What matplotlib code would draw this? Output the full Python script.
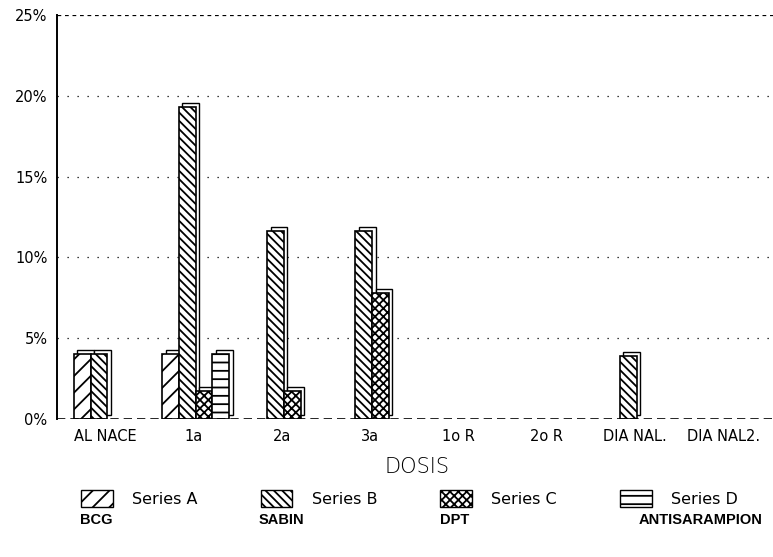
import matplotlib
matplotlib.use("Agg")
import matplotlib.pyplot as plt
from matplotlib.patches import Patch
import numpy as np

categories = ["AL NACE", "1a", "2a", "3a", "1o R", "2o R", "DIA NAL.", "DIA NAL2."]
series_names = ["Series A", "Series B", "Series C", "Series D"]
series_a = [4.0, 4.0, 0, 0, 0, 0, 0, 0]
series_b = [4.0, 19.3, 11.6, 11.6, 0, 0, 3.9, 0]
series_c = [0, 1.7, 1.7, 7.8, 0, 0, 0, 0]
series_d = [0, 4.0, 0, 0, 0, 0, 0, 0]
vaccines = ["BCG", "SABIN", "DPT", "ANTISARAMPION"]
yticks = [0, 5, 10, 15, 20, 25]
ytick_labels = ["0%", "5%", "10%", "15%", "20%", "25%"]

hatches = ["//", "\\\\\\\\", "xxxx", "--"]

plt.rcParams['hatch.linewidth'] = 1.3
plt.rcParams['font.family'] = ['DejaVu Sans']

fig = plt.figure(figsize=(7.73, 5.57), dpi=100)
ax = fig.add_axes([0.074, 0.248, 0.93, 0.725])

x = np.arange(len(categories))
w = 0.19
data = [series_a, series_b, series_c, series_d]
dx, dy = 0.04, 0.25
for i, vals in enumerate(data):
    off = (i - 1.5) * w + 0.02
    vals = np.array(vals)
    nz = vals > 0
    # 3D depth outline behind
    ax.bar(x[nz] + off + dx, vals[nz], width=w, bottom=dy, color="white",
           edgecolor="black", linewidth=1.0, zorder=2)
    ax.bar(x[nz] + off, vals[nz], width=w, color="white", edgecolor="black",
           hatch=hatches[i], linewidth=1.2, zorder=3)

for yv in [5, 10, 15, 20]:
    ax.axhline(yv, color="black", linestyle=(0, (1, 7)), linewidth=0.9, zorder=1)
ax.axhline(25, color="black", linestyle=(0, (3, 3)), linewidth=0.9, zorder=1)
ax.axhline(0, color="black", linestyle=(0, (5, 3)), linewidth=1.2, zorder=4)

ax.set_xlim(-0.55, 7.6)
ax.set_ylim(0, 25)
ax.set_yticks(yticks)
ax.set_yticklabels(ytick_labels, fontsize=10.5)
ax.set_xticks(x)
ax.set_xticklabels(categories, fontsize=10.5)
ax.tick_params(length=0, pad=7)
for s in ["top", "right", "bottom"]:
    ax.spines[s].set_visible(False)
ax.spines["left"].set_linewidth(1.4)
ax.set_xlabel("DOSIS", fontsize=15, labelpad=10, fontweight="light")

handles = [Patch(facecolor="white", edgecolor="black", hatch=h, linewidth=1.0) for h in hatches]
fig.legend(handles, series_names, loc="center left", bbox_to_anchor=(0.086, 0.105),
           ncol=4, frameon=False, fontsize=11.5, handlelength=2.0, handleheight=1.2,
           handletextpad=1.2, columnspacing=3.95)

xs = [0.104, 0.334, 0.569, 0.826]
for xv, t in zip(xs, vaccines):
    fig.text(xv, 0.066, t, fontsize=10.5, fontweight="bold", family="Liberation Sans",
             ha="left", va="center")

fig.savefig("out.png", dpi=100)
